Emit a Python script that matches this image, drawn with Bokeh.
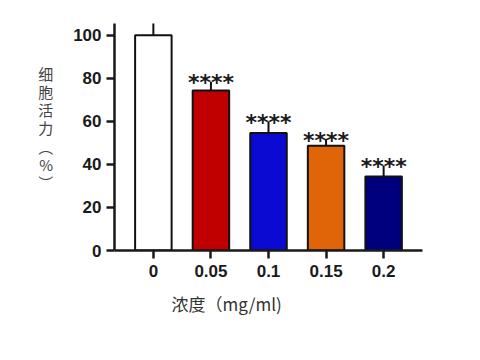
from bokeh.plotting import figure
from bokeh.models import FactorRange, Range1d, Title, ColumnDataSource, FixedTicker
from bokeh.core.properties import value
from bokeh.embed import file_html
from bokeh.resources import INLINE

categories = ["0", "0.05", "0.1", "0.15", "0.2"]
viability = [100, 74.4, 54.6, 48.7, 34.4]
sd = [8, 4.0, 5.5, 3.1, 5.1]
colors = ["#FFFFFF", "#C00000", "#0A0AD2", "#E06408", "#00007E"]
signif = ["", "****", "****", "****", "****"]
y_ticks = [0, 20, 40, 60, 80, 100]

upper = [v + e for v, e in zip(viability, sd)]
src = ColumnDataSource(dict(cat=categories, v=viability, up=upper, col=colors, sig=signif))

W, H = 464, 344
p = figure(x_range=FactorRange(factors=categories, range_padding=0.07),
           y_range=Range1d(0, 105.5),
           width=W, height=H, output_backend="svg", toolbar_location=None,
           min_border_left=114, min_border_right=W - 422, min_border_top=23, min_border_bottom=H - 250)
p.background_fill_color = "white"
p.border_fill_color = "white"
p.outline_line_color = None
p.grid.visible = False

p.vbar(x="cat", top="v", width=0.634, bottom=0, source=src, fill_color="col",
       line_color="#111111", line_width=2)
p.segment(x0="cat", y0="v", x1="cat", y1="up", source=src, line_color="#111111", line_width=2)
p.rect(x="cat", y="up", width=0.28, height=0, height_units="screen", source=src,
       fill_alpha=0, line_color="#111111", line_width=2)
p.text(x="cat", y="up", text="sig", source=src, text_align="center", text_baseline="alphabetic",
       y_offset=1, text_font=value("DejaVu Sans"), text_font_style="bold",
       text_font_size="22px", text_color="#1a1a1a")

for ax in (p.xaxis[0], p.yaxis[0]):
    ax.axis_line_width = 2.5
    ax.axis_line_color = "#1a1a1a"
    ax.major_tick_line_width = 2.5
    ax.major_tick_line_color = "#1a1a1a"
    ax.major_tick_out = 8
    ax.major_tick_in = 0
    ax.minor_tick_line_color = None
    ax.major_label_text_font = "Liberation Sans"
    ax.major_label_text_font_style = "bold"
    ax.major_label_text_font_size = "17px"
    ax.major_label_text_color = "#1a1a1a"
p.yaxis.ticker = FixedTicker(ticks=y_ticks)
p.yaxis.major_label_standoff = 5
p.xaxis.major_label_standoff = 6

# stacked vertical y label (a blank trailing line lifts it toward the top)
p.yaxis.axis_label = "细\n胞\n活\n力\n︵\n%\n︶\n\u3000"
p.yaxis.axis_label_orientation = "horizontal"
p.yaxis.axis_label_standoff = 17
p.yaxis.axis_label_text_font = "Noto Sans CJK SC"
p.yaxis.axis_label_text_font_style = "normal"
p.yaxis.axis_label_text_font_size = "15px"
p.yaxis.axis_label_text_color = "#444444"
p.yaxis.axis_label_text_line_height = 0.86

xt = Title(text="浓度（mg/ml)", align="left", offset=57, standoff=18,
           text_font="Noto Sans CJK SC", text_font_style="normal",
           text_font_size="17px", text_color="#333333")
p.add_layout(xt, "below")

open("out.html", "w").write(file_html(p, INLINE))
